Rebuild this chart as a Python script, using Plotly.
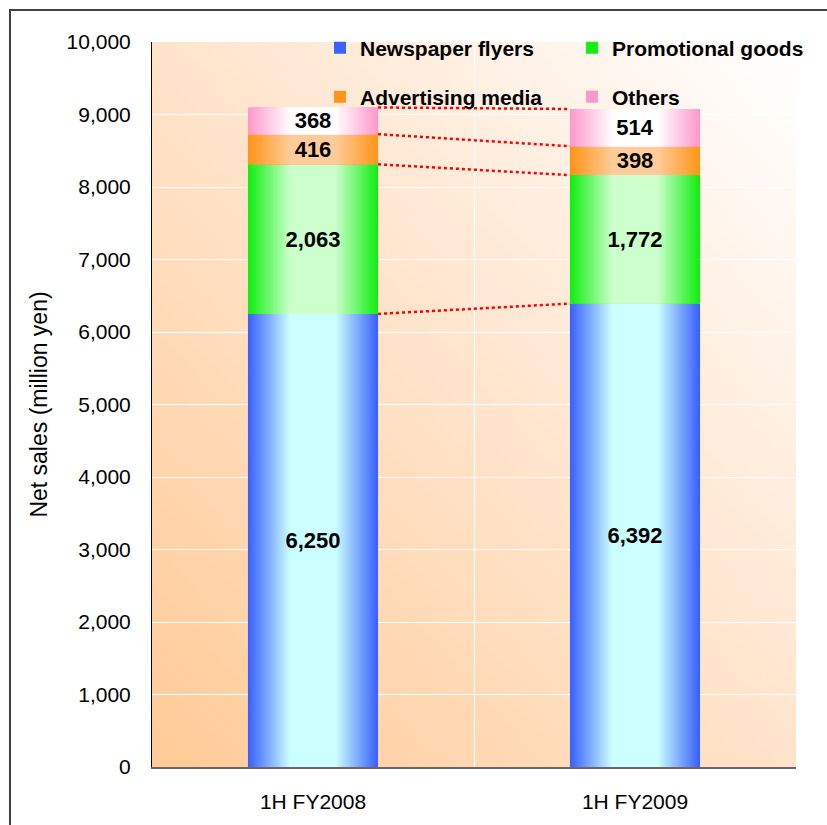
import plotly.graph_objects as go
import base64

# ---------------- data ----------------
categories = ["1H FY2008", "1H FY2009"]
series_names = ["Newspaper flyers", "Promotional goods", "Advertising media", "Others"]
newspaper = [6250, 6392]
promotional = [2063, 1772]
advertising = [416, 398]
others = [368, 514]
y_tick_values = [0, 1000, 2000, 3000, 4000, 5000, 6000, 7000, 8000, 9000, 10000]
y_title = "Net sales (million yen)"

series_values = [newspaper, promotional, advertising, others]

# ---------------- styling ----------------
FONT = "Liberation Sans, Arial, sans-serif"
edge_colors = ["#3a62ff", "#14ee14", "#ff961a", "#ff99cc"]
center_colors = ["#ccffff", "#ccffcc", "#ffcc99", "#ffffff"]
BAR_W = 0.404
N_STEPS = 22
PLATEAU = 0.36  # fraction of half-width that stays at center colour

W, H = 827, 825
ML, MR, MT, MB = 152, 31, 42, 58
PW, PH = W - ML - MR, H - MT - MB


def hex2rgb(h):
    h = h.lstrip("#")
    return tuple(int(h[i:i + 2], 16) for i in (0, 2, 4))


def mix(c1, c2, t):
    a, b = hex2rgb(c1), hex2rgb(c2)
    return "rgb(%d,%d,%d)" % tuple(round(a[i] + (b[i] - a[i]) * t) for i in range(3))


x_pos = list(range(len(categories)))

fig = go.Figure()

legend_ids = ["legend", "legend2", "legend3", "legend4"]

base = [0] * len(categories)
tops = []
for si, (name, vals) in enumerate(zip(series_names, series_values)):
    for k in range(N_STEPS + 1):
        d = 1 - k * (1 - PLATEAU) / N_STEPS  # relative half-width of this stripe
        t = (1 - d) / (1 - PLATEAU)
        col = mix(edge_colors[si], center_colors[si], min(max(t, 0), 1))
        last = k == N_STEPS
        fig.add_trace(go.Bar(
            x=x_pos, y=vals, base=base[:],
            width=BAR_W * d,
            marker=dict(color=col, line=dict(width=0)),
            name=name,
            legend=legend_ids[si],
            showlegend=(k == 0),
            hoverinfo="skip" if not last else None,
            text=[f"{v:,}" for v in vals] if last else None,
            textposition="inside" if last else "none",
            insidetextanchor="middle",
            constraintext="none",
            textangle=0,
            textfont=dict(family=FONT, size=22, color="black", weight="bold"),
        ))
    base = [b + v for b, v in zip(base, vals)]
    tops.append(base[:])

# series lines (red dotted) connecting the top of each series
for top in tops:
    fig.add_trace(go.Scatter(
        x=[x_pos[0] + BAR_W / 2, x_pos[1] - BAR_W / 2], y=top,
        mode="lines", line=dict(color="#ff0000", width=2.5, dash="dot"),
        showlegend=False, hoverinfo="skip"))

# background gradient for plot area
svg = ('<svg xmlns="http://www.w3.org/2000/svg" width="200" height="200" viewBox="0 0 200 200" '
       'preserveAspectRatio="none"><defs><linearGradient id="g" x1="0" y1="1" x2="1" y2="0">'
       '<stop offset="0" stop-color="#ffca96"/><stop offset="0.55" stop-color="#ffe6d0"/>'
       '<stop offset="1" stop-color="#ffffff"/></linearGradient></defs>'
       '<rect width="200" height="200" fill="url(#g)"/></svg>')
src = "data:image/svg+xml;base64," + base64.b64encode(svg.encode()).decode()

legend_common = dict(bgcolor="rgba(0,0,0,0)", borderwidth=0, itemwidth=30,
                     font=dict(family=FONT, size=21, color="black", weight="bold"),
                     xanchor="left", yanchor="middle", orientation="v")

def lx(px):
    return (px - 40 - ML) / PW

def ly(py):
    return (H - MB - py) / PH

fig.update_layout(
    width=W, height=H,
    margin=dict(l=ML, r=MR, t=MT, b=MB, pad=0),
    paper_bgcolor="white",
    plot_bgcolor="rgba(0,0,0,0)",
    barmode="overlay",
    font=dict(family=FONT, color="black"),
    images=[dict(source=src, xref="paper", yref="paper", x=0, y=1, sizex=1, sizey=1,
                 xanchor="left", yanchor="top", sizing="stretch", layer="below")],
    legend=dict(x=lx(360), y=ly(48), **legend_common),
    legend2=dict(x=lx(612), y=ly(48), **legend_common),
    legend3=dict(x=lx(360), y=ly(97), **legend_common),
    legend4=dict(x=lx(612), y=ly(97), **legend_common),
    xaxis=dict(
        range=[-0.5, 1.5], tickmode="array", tickvals=x_pos, ticktext=categories,
        showgrid=False, zeroline=False, showline=True, linecolor="#6e6660", linewidth=2,
        ticks="", ticklabelstandoff=15, tickfont=dict(family=FONT, size=21, color="black"),
        minor=dict(tickvals=[0.5], showgrid=True, gridcolor="white", gridwidth=1, ticks=""),
        automargin=False, fixedrange=True,
    ),
    yaxis=dict(
        range=[0, 10000], tickmode="array", tickvals=y_tick_values,
        ticktext=[f"{v:,}" for v in y_tick_values],
        showgrid=True, gridcolor="white", gridwidth=1, zeroline=False,
        showline=True, linecolor="black", linewidth=1, ticks="",
        ticklabelstandoff=16, tickfont=dict(family=FONT, size=21, color="black"),
        title=dict(text=y_title, font=dict(family=FONT, size=23, color="black"), standoff=12),
        automargin=False, fixedrange=True,
    ),
    shapes=[dict(type="rect", xref="paper", yref="paper",
                 x0=(10 - ML) / PW, x1=(W + 20 - ML) / PW,
                 y0=(H - MB - (H + 20)) / PH, y1=(H - MB - 10) / PH,
                 line=dict(color="#404040", width=2), fillcolor="rgba(0,0,0,0)", layer="above")],
)

fig.write_html("out.html")
